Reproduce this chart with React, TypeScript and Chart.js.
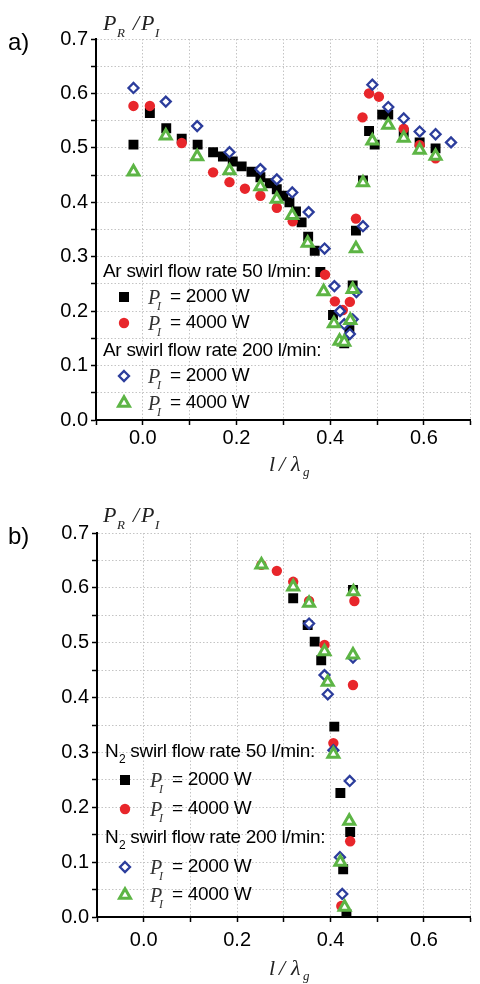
import React, { useEffect, useRef } from "react";
import { Chart, registerables } from "chart.js";

Chart.register(...registerables);

// ---------- axis ticks ----------
const xTickValues = [-0.1, 0, 0.1, 0.2, 0.3, 0.4, 0.5, 0.6, 0.7];
const xTickLabels = ["", "0.0", "", "0.2", "", "0.4", "", "0.6", ""];
const yTickValues = [0, 0.05, 0.1, 0.15, 0.2, 0.25, 0.3, 0.35, 0.4, 0.45, 0.5, 0.55, 0.6, 0.65, 0.7];
const yTickLabels = ["0.0", "", "0.1", "", "0.2", "", "0.3", "", "0.4", "", "0.5", "", "0.6", "", "0.7"];

// ---------- panel a) Ar ----------
const arB50P2000X = [-0.02, 0.015, 0.05, 0.083, 0.117, 0.15, 0.171, 0.192, 0.211, 0.232, 0.251, 0.271, 0.286, 0.3, 0.313, 0.327, 0.339, 0.353, 0.367, 0.379, 0.406, 0.43, 0.441, 0.448, 0.455, 0.47, 0.483, 0.495, 0.511, 0.524, 0.557, 0.591, 0.625];
const arB50P2000Y = [0.506, 0.564, 0.536, 0.517, 0.506, 0.492, 0.484, 0.475, 0.466, 0.456, 0.446, 0.435, 0.424, 0.412, 0.4, 0.383, 0.363, 0.337, 0.311, 0.272, 0.193, 0.141, 0.165, 0.247, 0.348, 0.44, 0.531, 0.506, 0.561, 0.561, 0.528, 0.51, 0.499];

const arB50P4000X = [-0.02, 0.015, 0.083, 0.15, 0.185, 0.218, 0.251, 0.286, 0.32, 0.389, 0.41, 0.427, 0.442, 0.455, 0.469, 0.483, 0.504, 0.557, 0.591, 0.625];
const arB50P4000Y = [0.577, 0.577, 0.509, 0.455, 0.437, 0.425, 0.412, 0.39, 0.365, 0.267, 0.218, 0.202, 0.217, 0.37, 0.556, 0.6, 0.594, 0.535, 0.505, 0.481];

const arB200P2000X = [-0.02, 0.049, 0.116, 0.185, 0.251, 0.286, 0.319, 0.354, 0.388, 0.409, 0.421, 0.43, 0.442, 0.448, 0.456, 0.47, 0.49, 0.524, 0.557, 0.591, 0.625, 0.658];
const arB200P2000Y = [0.61, 0.585, 0.54, 0.492, 0.461, 0.442, 0.418, 0.382, 0.315, 0.246, 0.2, 0.176, 0.158, 0.185, 0.235, 0.356, 0.616, 0.575, 0.554, 0.53, 0.525, 0.51];

const arB200P4000X = [-0.02, 0.049, 0.116, 0.185, 0.251, 0.286, 0.319, 0.352, 0.386, 0.408, 0.42, 0.43, 0.443, 0.448, 0.455, 0.47, 0.49, 0.524, 0.557, 0.591, 0.625];
const arB200P4000Y = [0.456, 0.522, 0.484, 0.458, 0.429, 0.406, 0.376, 0.325, 0.236, 0.177, 0.145, 0.143, 0.183, 0.24, 0.315, 0.436, 0.513, 0.542, 0.518, 0.496, 0.485];

// ---------- panel b) N2 ----------
const n2B50P2000X = [0.32, 0.351, 0.366, 0.38, 0.408, 0.421, 0.427, 0.434, 0.442, 0.448];
const n2B50P2000Y = [0.581, 0.532, 0.502, 0.468, 0.347, 0.226, 0.087, 0.005, 0.155, 0.596];

const n2B50P4000X = [0.252, 0.285, 0.32, 0.354, 0.387, 0.406, 0.423, 0.442, 0.448, 0.451];
const n2B50P4000Y = [0.642, 0.631, 0.611, 0.576, 0.496, 0.317, 0.02, 0.138, 0.423, 0.576];

const n2B200P2000X = [0.354, 0.387, 0.394, 0.406, 0.42, 0.425, 0.441, 0.448];
const n2B200P2000Y = [0.535, 0.441, 0.406, 0.304, 0.109, 0.042, 0.248, 0.473];

const n2B200P4000X = [0.252, 0.32, 0.354, 0.387, 0.394, 0.406, 0.421, 0.43, 0.44, 0.448, 0.449];
const n2B200P4000Y = [0.642, 0.602, 0.572, 0.484, 0.428, 0.297, 0.1, 0.018, 0.175, 0.478, 0.593];

// ---------- text ----------
const panelALetter = "a)";
const panelBLetter = "b)";
const legendRowText = ["= 2000 W", "= 4000 W", "= 2000 W", "= 4000 W"];

const BLACK = "#000000";
const RED = "#e8262b";
const NAVY = "#2c3d9c";
const GREEN = "#5db545";
const SANS = '"Liberation Sans", Arial, Helvetica, sans-serif';
const SERIF = '"Liberation Serif", "DejaVu Serif", serif';

const zip = (xs: number[], ys: number[]) => xs.map((x, i) => ({ x, y: ys[i] }));

function makeDatasets(b2: any[], b4: any[], d2: any[], g4: any[]) {
  return [
    { label: "sq", data: b2, pointStyle: "rect", pointRadius: 7, pointBackgroundColor: BLACK, pointBorderColor: BLACK, pointBorderWidth: 0, backgroundColor: BLACK, borderColor: BLACK, order: 4 },
    { label: "ci", data: b4, pointStyle: "circle", pointRadius: 5.2, pointBackgroundColor: RED, pointBorderColor: RED, pointBorderWidth: 0, backgroundColor: RED, borderColor: RED, order: 3 },
    { label: "di", data: d2, pointStyle: "rectRot", pointRadius: 5, pointBackgroundColor: "#ffffff", pointBorderColor: NAVY, pointBorderWidth: 2.3, backgroundColor: "#ffffff", borderColor: NAVY, order: 2 },
    { label: "tr", data: g4, pointStyle: "triangle", pointRadius: 6.3, pointBackgroundColor: "#ffffff", pointBorderColor: GREEN, pointBorderWidth: 3, backgroundColor: "#ffffff", borderColor: GREEN, order: 1 },
  ];
}

function drawMarker(ctx: CanvasRenderingContext2D, kind: number, cx: number, cy: number) {
  ctx.save();
  if (kind === 0) {
    ctx.fillStyle = BLACK;
    ctx.fillRect(cx - 5, cy - 5, 10, 10);
  } else if (kind === 1) {
    ctx.fillStyle = RED;
    ctx.beginPath();
    ctx.arc(cx, cy, 5.2, 0, Math.PI * 2);
    ctx.fill();
  } else if (kind === 2) {
    ctx.strokeStyle = NAVY;
    ctx.fillStyle = "#fff";
    ctx.lineWidth = 2.3;
    ctx.beginPath();
    ctx.moveTo(cx, cy - 5);
    ctx.lineTo(cx + 5, cy);
    ctx.lineTo(cx, cy + 5);
    ctx.lineTo(cx - 5, cy);
    ctx.closePath();
    ctx.fill();
    ctx.stroke();
  } else {
    ctx.strokeStyle = GREEN;
    ctx.fillStyle = "#fff";
    ctx.lineWidth = 3;
    const r = 6.3;
    ctx.beginPath();
    for (let i = 0; i < 3; i++) {
      const a = -Math.PI / 2 + (i * 2 * Math.PI) / 3;
      const px = cx + r * Math.cos(a);
      const py = cy + r * Math.sin(a);
      if (i === 0) ctx.moveTo(px, py);
      else ctx.lineTo(px, py);
    }
    ctx.closePath();
    ctx.fill();
    ctx.stroke();
  }
  ctx.restore();
}

interface PanelCfg {
  letter: string;
  gas: string;
  gasSub: string;
  headerX: number;
  rowsY: number[];
  markerX: number;
  pX: number;
  eqX: number;
  letterBaseline: number;
  yTitleBaseline: number;
  xTitleBaseline: number;
}

function makeTextPlugin(p: PanelCfg) {
  return {
    id: "panelText",
    afterDraw(chart: any) {
      const ctx: CanvasRenderingContext2D = chart.ctx;
      ctx.save();
      ctx.fillStyle = "#000";
      ctx.font = `24px ${SANS}`;
      ctx.textBaseline = "alphabetic";
      ctx.textAlign = "left";
      ctx.fillText(p.letter, 8, p.letterBaseline);

      const yb = p.yTitleBaseline;
      ctx.fillStyle = "#222";
      ctx.font = `italic 22px ${SERIF}`;
      ctx.fillText("P", 103, yb);
      ctx.font = `italic 13px ${SERIF}`;
      ctx.fillText("R", 117, yb + 7);
      ctx.font = `italic 22px ${SERIF}`;
      ctx.fillText("/", 133, yb);
      ctx.fillText("P", 141, yb);
      ctx.font = `italic 13px ${SERIF}`;
      ctx.fillText("I", 155, yb + 7);

      const xb = p.xTitleBaseline;
      ctx.font = `italic 22px ${SERIF}`;
      ctx.fillText("l", 269, xb);
      ctx.fillText("/", 279, xb);
      ctx.fillText("λ", 291, xb);
      ctx.font = `italic 13px ${SERIF}`;
      ctx.fillText("g", 303, xb + 5);

      ctx.fillStyle = "#000";
      (ctx as any).letterSpacing = "-0.3px";
      const headerTexts = [" swirl flow rate 50 l/min:", " swirl flow rate 200 l/min:"];
      const headerRows = [p.rowsY[0], p.rowsY[3]];
      headerRows.forEach((hy, i) => {
        ctx.font = `19px ${SANS}`;
        ctx.textBaseline = "middle";
        let x = p.headerX;
        ctx.fillText(p.gas, x, hy);
        x += ctx.measureText(p.gas).width;
        if (p.gasSub) {
          ctx.font = `12px ${SANS}`;
          ctx.textBaseline = "alphabetic";
          ctx.fillText(p.gasSub, x + 0.5, hy + 11);
          x += ctx.measureText(p.gasSub).width + 0.5;
          ctx.font = `19px ${SANS}`;
          ctx.textBaseline = "middle";
        }
        ctx.fillText(headerTexts[i], x, hy);
      });
      const rows = [p.rowsY[1], p.rowsY[2], p.rowsY[4], p.rowsY[5]];
      rows.forEach((ry, i) => {
        drawMarker(ctx, i, p.markerX, ry);
        ctx.fillStyle = "#333";
        ctx.textBaseline = "alphabetic";
        (ctx as any).letterSpacing = "0px";
        ctx.font = `italic 20px ${SERIF}`;
        ctx.fillText("P", p.pX, ry + 7);
        ctx.font = `italic 12px ${SERIF}`;
        ctx.fillText("I", p.pX + 9, ry + 13);
        ctx.fillStyle = "#000";
        (ctx as any).letterSpacing = "-0.3px";
        ctx.font = `19px ${SANS}`;
        ctx.textBaseline = "middle";
        ctx.fillText(legendRowText[i], p.eqX, ry);
      });
      ctx.restore();
    },
  };
}

function makeConfig(datasets: any[], pad: { top: number; right: number; xAxisH: number; yAxisW: number; xPad: number }, panel: PanelCfg) {
  return {
    type: "scatter" as const,
    data: { datasets },
    options: {
      animation: false as const,
      responsive: false,
      devicePixelRatio: 1,
      layout: { padding: { top: pad.top, right: pad.right, left: 0, bottom: 0 } },
      plugins: { legend: { display: false }, tooltip: { enabled: false } },
      scales: {
        x: {
          type: "linear" as const,
          min: -0.1,
          max: 0.7,
          afterBuildTicks: (s: any) => {
            s.ticks = xTickValues.map((v) => ({ value: v }));
          },
          afterFit: (s: any) => {
            s.height = pad.xAxisH;
          },
          ticks: {
            autoSkip: false,
            maxRotation: 0,
            color: "#000",
            padding: pad.xPad,
            font: { family: SANS, size: 20 },
            callback: (_v: any, i: number) => xTickLabels[i],
          },
          grid: { color: "#c4c4c4", lineWidth: 1, tickColor: "#000", tickLength: 5, tickWidth: 1.5, tickBorderDash: [] },
          border: { display: true, color: "#000", width: 2, dash: [1.5, 2] },
        },
        y: {
          type: "linear" as const,
          min: 0,
          max: 0.7,
          afterBuildTicks: (s: any) => {
            s.ticks = yTickValues.map((v) => ({ value: v }));
          },
          afterFit: (s: any) => {
            s.width = pad.yAxisW;
          },
          ticks: {
            autoSkip: false,
            color: "#000",
            padding: 3,
            font: { family: SANS, size: 20 },
            callback: (_v: any, i: number) => yTickLabels[i],
          },
          grid: { color: "#c4c4c4", lineWidth: 1, tickColor: "#000", tickLength: 5, tickWidth: 1.5, tickBorderDash: [] },
          border: { display: true, color: "#000", width: 2, dash: [1.5, 2] },
        },
      },
    },
    plugins: [makeTextPlugin(panel)],
  };
}

const panelA: PanelCfg = {
  letter: panelALetter,
  gas: "Ar",
  gasSub: "",
  headerX: 103,
  rowsY: [272, 297, 323, 351, 376, 403],
  markerX: 124,
  pX: 148,
  eqX: 170,
  letterBaseline: 50,
  yTitleBaseline: 30,
  xTitleBaseline: 471,
};

const panelB: PanelCfg = {
  letter: panelBLetter,
  gas: "N",
  gasSub: "2",
  headerX: 105,
  rowsY: [260, 288, 317, 346, 375, 403],
  markerX: 125,
  pX: 150,
  eqX: 172,
  letterBaseline: 52,
  yTitleBaseline: 30,
  xTitleBaseline: 483,
};

function Panel(props: { cfg: any }) {
  const ref = useRef<HTMLCanvasElement | null>(null);
  useEffect(() => {
    if (!ref.current) return;
    const chart = new Chart(ref.current, props.cfg);
    return () => chart.destroy();
  }, []);
  return <canvas ref={ref} width={480} height={492} style={{ display: "block", width: 480, height: 492 }} />;
}

export default function App() {
  const cfgA = makeConfig(
    makeDatasets(zip(arB50P2000X, arB50P2000Y), zip(arB50P4000X, arB50P4000Y), zip(arB200P2000X, arB200P2000Y), zip(arB200P4000X, arB200P4000Y)),
    { top: 39, right: 3, xAxisH: 72, yAxisW: 96, xPad: 1 },
    panelA
  );
  const cfgB = makeConfig(
    makeDatasets(zip(n2B50P2000X, n2B50P2000Y), zip(n2B50P4000X, n2B50P4000Y), zip(n2B200P2000X, n2B200P2000Y), zip(n2B200P4000X, n2B200P4000Y)),
    { top: 41, right: 0, xAxisH: 67, yAxisW: 97, xPad: 6 },
    panelB
  );
  return (
    <div style={{ position: "absolute", left: 0, top: 0, width: 480, height: 984, background: "#fff", overflow: "hidden" }}>
      <Panel cfg={cfgA} />
      <Panel cfg={cfgB} />
    </div>
  );
}
